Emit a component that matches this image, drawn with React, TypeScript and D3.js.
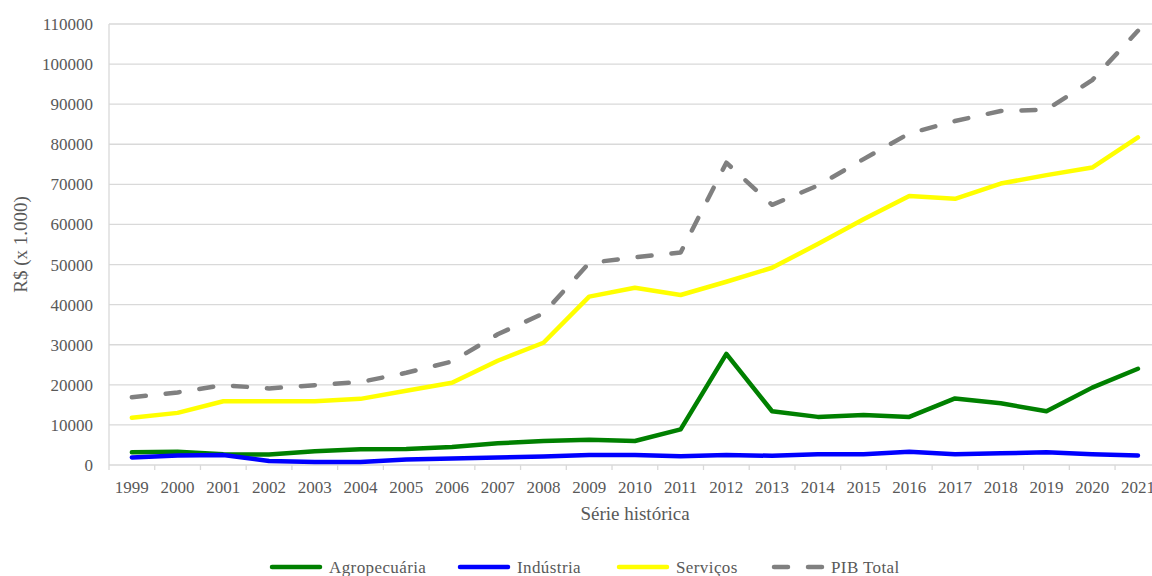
import React, { useEffect, useRef } from 'react';
import * as d3 from 'd3';

const width = 1152,
  height = 576;

// categorias (anos) e séries
const years = ['1999', '2000', '2001', '2002', '2003', '2004', '2005', '2006', '2007', '2008', '2009', '2010',
  '2011', '2012', '2013', '2014', '2015', '2016', '2017', '2018', '2019', '2020', '2021'];

const agropecuaria = [3200, 3300, 2700, 2600, 3400, 3900, 4000, 4500, 5400, 6000, 6300, 6000,
  8900, 27700, 13400, 12000, 12500, 12000, 16600, 15400, 13400, 19300, 24000];

const industria = [1900, 2400, 2500, 1000, 750, 750, 1400, 1600, 1900, 2100, 2500, 2500,
  2200, 2500, 2300, 2700, 2700, 3300, 2700, 2900, 3200, 2700, 2400];

const servicos = [11800, 13000, 15900, 15900, 15900, 16500, 18500, 20500, 26000, 30500, 42000, 44200,
  42400, 45700, 49200, 55100, 61300, 67100, 66400, 70200, 72300, 74200, 81700];

const pibTotal = [16900, 18100, 19900, 19100, 19900, 20700, 23000, 25800, 32600, 37800, 50400, 51800,
  53000, 75400, 64900, 69700, 76300, 82700, 85800, 88300, 88600, 96000, 108300];

const yTicks = [0, 10000, 20000, 30000, 40000, 50000, 60000, 70000, 80000, 90000, 100000, 110000];

const seriesNames = ['Agropecuária', 'Indústria', 'Serviços', 'PIB Total'];
const seriesValues = [agropecuaria, industria, servicos, pibTotal];
const seriesColors = ['#008000', '#0000ff', '#ffff00', '#808080'];
const seriesDash = [null, null, null, '14 20'];

const font = '"Liberation Serif", "Times New Roman", serif';
const textColor = '#595959';
const gridColor = '#d9d9d9';

function App() {
  const ref = useRef<SVGSVGElement>(null);

  useEffect(() => {
    const svg = d3.select(ref.current);
    svg.selectAll('*').remove();

    const x = d3.scaleBand<string>()
      .domain(years)
      .range([109, 109 + 23 * 45.73])
      .padding(0);

    const y = d3.scaleLinear()
      .domain([0, 110000])
      .range([465, 24]);

    // linhas de grade
    svg.append('g')
      .selectAll('line')
      .data(yTicks)
      .enter().append('line')
      .attr('x1', 109)
      .attr('x2', width)
      .attr('y1', d => y(d))
      .attr('y2', d => y(d))
      .style('stroke', gridColor)
      .style('stroke-width', 1.3);

    // eixo vertical
    svg.append('line')
      .attr('x1', 109).attr('x2', 109)
      .attr('y1', y(110000)).attr('y2', y(0) + 5)
      .style('stroke', gridColor)
      .style('stroke-width', 1.3);

    // marcas do eixo x
    svg.append('g')
      .selectAll('line')
      .data(years.slice(1))
      .enter().append('line')
      .attr('x1', d => x(d)!)
      .attr('x2', d => x(d)!)
      .attr('y1', y(0))
      .attr('y2', y(0) + 5)
      .style('stroke', gridColor)
      .style('stroke-width', 1.3);

    // rótulos y
    svg.append('g')
      .selectAll('text')
      .data(yTicks)
      .enter().append('text')
      .attr('x', 93)
      .attr('y', d => y(d) + 6)
      .attr('text-anchor', 'end')
      .style('font-family', font)
      .style('font-size', '17px')
      .style('fill', textColor)
      .text(d => String(d));

    // rótulos x
    svg.append('g')
      .selectAll('text')
      .data(years)
      .enter().append('text')
      .attr('x', d => x(d)! + x.bandwidth() / 2)
      .attr('y', 493)
      .attr('text-anchor', 'middle')
      .style('font-family', font)
      .style('font-size', '17px')
      .style('fill', textColor)
      .text(d => d);

    // títulos dos eixos
    svg.append('text')
      .attr('x', 635)
      .attr('y', 520)
      .attr('text-anchor', 'middle')
      .style('font-family', font)
      .style('font-size', '19px')
      .style('fill', textColor)
      .text('Série histórica');

    svg.append('text')
      .attr('transform', 'translate(27,' + (y(55000)) + ') rotate(-90)')
      .attr('text-anchor', 'middle')
      .style('font-family', font)
      .style('font-size', '19px')
      .style('fill', textColor)
      .text('R$ (x 1.000)');

    const line = d3.line<number>()
      .x((d, i) => x(years[i])! + x.bandwidth() / 2)
      .y(d => y(d));

    seriesValues.forEach((vals, s) => {
      const p = svg.append('path')
        .datum(vals)
        .attr('d', line)
        .style('fill', 'none')
        .style('stroke', seriesColors[s])
        .style('stroke-width', 4.5)
        .style('stroke-linejoin', 'round')
        .style('stroke-linecap', 'round');
      if (seriesDash[s]) p.style('stroke-dasharray', seriesDash[s]);
    });

    // legenda
    const legendX = [270, 458, 617, 772];
    const legend = svg.append('g')
      .selectAll('g')
      .data(seriesNames)
      .enter().append('g')
      .attr('transform', (d, i) => 'translate(' + legendX[i] + ',567)');

    legend.append('line')
      .attr('x1', 2)
      .attr('x2', 50)
      .attr('y1', 0)
      .attr('y2', 0)
      .style('stroke', (d, i) => seriesColors[i])
      .style('stroke-width', 4.5)
      .style('stroke-linecap', 'round')
      .style('stroke-dasharray', (d, i) => seriesDash[i] || null);

    legend.append('text')
      .attr('x', 59)
      .attr('y', 6)
      .style('font-family', font)
      .style('font-size', '17px')
      .style('letter-spacing', '0.4px')
      .style('fill', textColor)
      .text(d => d);
  }, []);

  return (
    <svg ref={ref} width={width} height={height}
      style={{ position: 'absolute', left: 0, top: 0, background: '#fff', overflow: 'hidden' }} />
  );
}

export default App;
